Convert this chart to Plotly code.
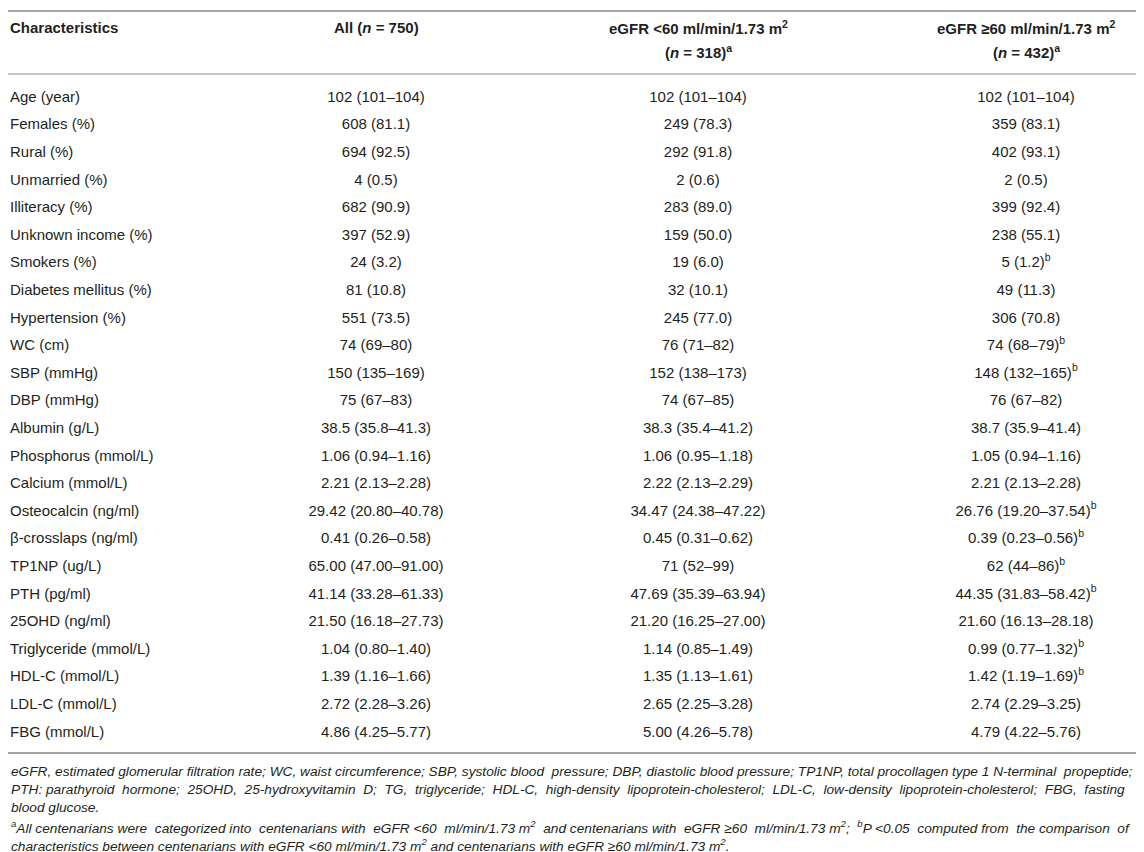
import plotly.graph_objects as go

characteristics = ["Age (year)", "Females (%)", "Rural (%)", "Unmarried (%)", "Illiteracy (%)",
                   "Unknown income (%)", "Smokers (%)", "Diabetes mellitus (%)", "Hypertension (%)",
                   "WC (cm)", "SBP (mmHg)", "DBP (mmHg)", "Albumin (g/L)", "Phosphorus (mmol/L)",
                   "Calcium (mmol/L)", "Osteocalcin (ng/ml)", "β-crosslaps (ng/ml)", "TP1NP (ug/L)",
                   "PTH (pg/ml)", "25OHD (ng/ml)", "Triglyceride (mmol/L)", "HDL-C (mmol/L)",
                   "LDL-C (mmol/L)", "FBG (mmol/L)"]

all_values = ["102 (101–104)", "608 (81.1)", "694 (92.5)", "4 (0.5)", "682 (90.9)", "397 (52.9)",
              "24 (3.2)", "81 (10.8)", "551 (73.5)", "74 (69–80)", "150 (135–169)", "75 (67–83)",
              "38.5 (35.8–41.3)", "1.06 (0.94–1.16)", "2.21 (2.13–2.28)", "29.42 (20.80–40.78)",
              "0.41 (0.26–0.58)", "65.00 (47.00–91.00)", "41.14 (33.28–61.33)", "21.50 (16.18–27.73)",
              "1.04 (0.80–1.40)", "1.39 (1.16–1.66)", "2.72 (2.28–3.26)", "4.86 (4.25–5.77)"]

lt60_values = ["102 (101–104)", "249 (78.3)", "292 (91.8)", "2 (0.6)", "283 (89.0)", "159 (50.0)",
               "19 (6.0)", "32 (10.1)", "245 (77.0)", "76 (71–82)", "152 (138–173)", "74 (67–85)",
               "38.3 (35.4–41.2)", "1.06 (0.95–1.18)", "2.22 (2.13–2.29)", "34.47 (24.38–47.22)",
               "0.45 (0.31–0.62)", "71 (52–99)", "47.69 (35.39–63.94)", "21.20 (16.25–27.00)",
               "1.14 (0.85–1.49)", "1.35 (1.13–1.61)", "2.65 (2.25–3.28)", "5.00 (4.26–5.78)"]

ge60_values = ["102 (101–104)", "359 (83.1)", "402 (93.1)", "2 (0.5)", "399 (92.4)", "238 (55.1)",
               "5 (1.2)", "49 (11.3)", "306 (70.8)", "74 (68–79)", "148 (132–165)", "76 (67–82)",
               "38.7 (35.9–41.4)", "1.05 (0.94–1.16)", "2.21 (2.13–2.28)", "26.76 (19.20–37.54)",
               "0.39 (0.23–0.56)", "62 (44–86)", "44.35 (31.83–58.42)", "21.60 (16.13–28.18)",
               "0.99 (0.77–1.32)", "1.42 (1.19–1.69)", "2.74 (2.29–3.25)", "4.79 (4.22–5.76)"]

ge60_marks = ["", "", "", "", "", "", "b", "", "", "b", "b", "", "", "", "", "b", "b", "b", "b",
              "", "b", "b", "", ""]

headers = ["<b>Characteristics</b>",
           "<b>All (<i>n</i> = 750)</b>",
           "<b>eGFR &lt;60 ml/min/1.73 m<sup>2</sup></b>",
           "<b>eGFR ≥60 ml/min/1.73 m<sup>2</sup></b>"]
subheaders = ["", "", "<b>(<i>n</i> = 318)<sup>a</sup></b>", "<b>(<i>n</i> = 432)<sup>a</sup></b>"]

footnotes = [
    "eGFR, estimated glomerular filtration rate; WC, waist circumference; SBP, systolic blood pressure; "
    "DBP, diastolic blood pressure; TP1NP, total procollagen type 1 N-terminal propeptide;",
    "PTH: parathyroid hormone; 25OHD, 25-hydroxyvitamin D; TG, triglyceride; HDL-C, high-density "
    "lipoprotein-cholesterol; LDL-C, low-density lipoprotein-cholesterol; FBG, fasting",
    "blood glucose.",
    "<sup>a</sup>All centenarians were categorized into centenarians with eGFR &lt;60 ml/min/1.73 m<sup>2</sup> "
    "and centenarians with eGFR ≥60 ml/min/1.73 m<sup>2</sup>; <sup>b</sup>P &lt;0.05 computed from the comparison of",
    "characteristics between centenarians with eGFR &lt;60 ml/min/1.73 m<sup>2</sup> and centenarians "
    "with eGFR ≥60 ml/min/1.73 m<sup>2</sup>.",
]
# extra no-break spaces used to imitate the justified footnote lines
foot_extra = [2, 14, 0, 11, 0]

# ---- layout constants (pixels) ----
W, H = 1144, 852
ROW0, STEP = 90.0, 27.6
FONT = "Liberation Sans, Arial, Helvetica, sans-serif"
TXT = "#231f20"
BODY = 15
FOOT = 13.7
col_x = [2, 368, 690, 1018]

rows = list(range(len(characteristics)))
y_top = -ROW0 / STEP
y_bot = (H - ROW0) / STEP


def py(px):
    return 1 - px / H


def justify(line, extra):
    words = line.split(" ")
    gaps = len(words) - 1
    if extra <= 0 or gaps <= 0:
        return line
    out = words[0]
    for i, w in enumerate(words[1:]):
        n = ((i + 1) * extra) // gaps - (i * extra) // gaps
        out += " " + "&nbsp;" * n + w
    return out


fig = go.Figure()
tf = dict(family=FONT, size=BODY, color=TXT)
fig.add_trace(go.Scatter(x=[col_x[0]] * len(rows), y=rows, mode="text", text=characteristics,
                         textposition="middle right", textfont=tf, hoverinfo="skip"))
fig.add_trace(go.Scatter(x=[col_x[1]] * len(rows), y=rows, mode="text", text=all_values,
                         textposition="middle center", textfont=tf, hoverinfo="skip"))
fig.add_trace(go.Scatter(x=[col_x[2]] * len(rows), y=rows, mode="text", text=lt60_values,
                         textposition="middle center", textfont=tf, hoverinfo="skip"))
ge60_text = [v + (f"<sup>{m}</sup>" if m else "") for v, m in zip(ge60_values, ge60_marks)]
fig.add_trace(go.Scatter(x=[col_x[3]] * len(rows), y=rows, mode="text", text=ge60_text,
                         textposition="middle center", textfont=tf, hoverinfo="skip"))

ann = []
for i, (h, s) in enumerate(zip(headers, subheaders)):
    ann.append(dict(x=0 if i == 0 else col_x[i], y=py(19), xref="x", yref="paper", text=h,
                    xanchor="left" if i == 0 else "center", yanchor="middle", showarrow=False,
                    font=dict(family=FONT, size=BODY, color=TXT)))
    if s:
        ann.append(dict(x=col_x[i], y=py(43), xref="x", yref="paper", text=s,
                        xanchor="center", yanchor="middle", showarrow=False,
                        font=dict(family=FONT, size=BODY, color=TXT)))

foot_y = [763, 781, 799, 819, 837]
for t, e, fy in zip(footnotes, foot_extra, foot_y):
    ann.append(dict(x=1, y=py(fy), xref="x", yref="paper", text=f"<i>{justify(t, e)}</i>",
                    xanchor="left", yanchor="middle", showarrow=False,
                    font=dict(family=FONT, size=FOOT, color=TXT)))

shapes = [
    dict(type="line", xref="x", yref="paper", x0=0, x1=W, y0=py(3), y1=py(3),
         line=dict(color="#a6a6a6", width=2)),
    dict(type="line", xref="x", yref="paper", x0=0, x1=W, y0=py(66), y1=py(66),
         line=dict(color="#b3b3b3", width=1.5)),
    dict(type="line", xref="x", yref="paper", x0=0, x1=W, y0=py(745), y1=py(745),
         line=dict(color="#a6a6a6", width=2)),
]

fig.update_layout(
    width=W, height=H, margin=dict(l=0, r=0, t=0, b=0, pad=0),
    paper_bgcolor="white", plot_bgcolor="white", showlegend=False,
    xaxis=dict(range=[0, W], visible=False, fixedrange=True),
    yaxis=dict(range=[y_bot, y_top], visible=False, fixedrange=True),
    annotations=ann, shapes=shapes,
)

fig.write_html("out.html")
